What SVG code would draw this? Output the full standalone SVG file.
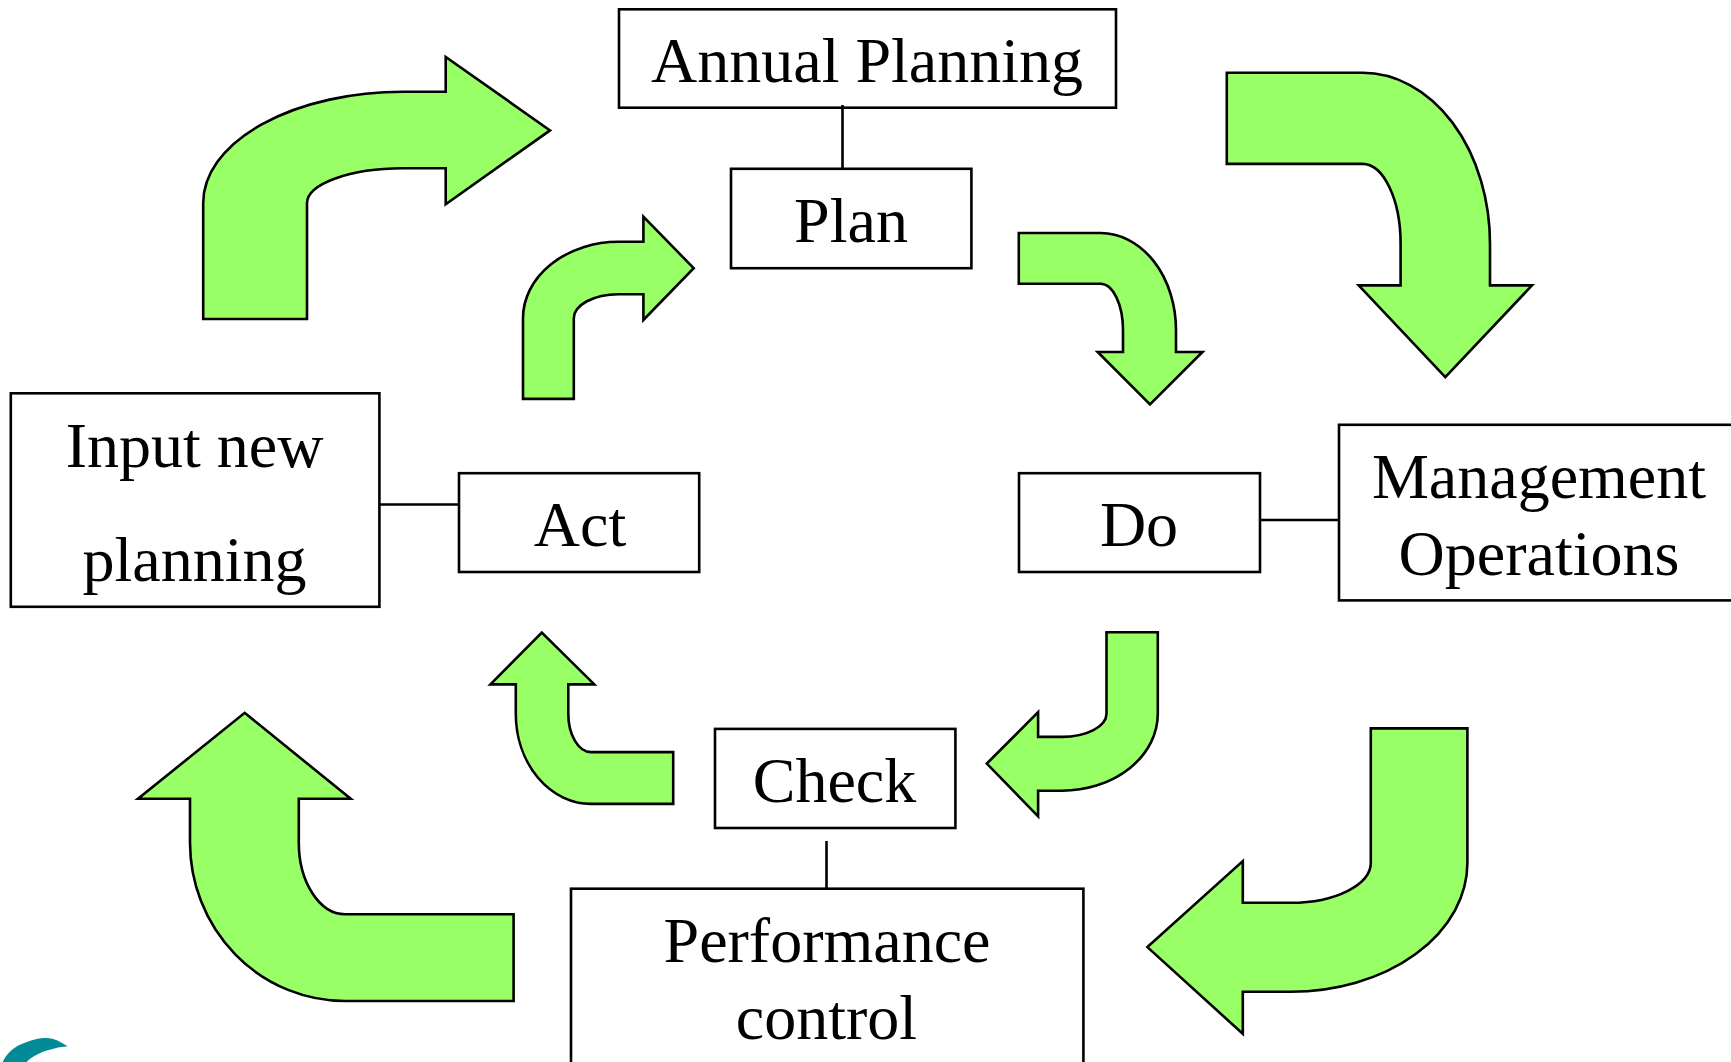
<svg xmlns="http://www.w3.org/2000/svg" width="1731" height="1062" viewBox="0 0 1731 1062">
<style>
.box{fill:#fff;stroke:#000;stroke-width:2.6}
.arrow{fill:#99ff66;stroke:#000;stroke-width:2.6;stroke-linejoin:miter}
.link{stroke:#000;stroke-width:2.6;fill:none}
text{font-family:"Liberation Serif","Times New Roman",serif;font-size:64px;fill:#000;text-anchor:middle}
</style>
<rect width="1731" height="1062" fill="#fff"/>
<g id="arrow-input-annual"><path class="arrow" d="M203.2 319V203A200 111.2 0 0 1 403 91.8H445.7V56.9L550 130.4 445.7 204.2V168.3H403A96 35 0 0 0 307 203.2V319Z"/></g>
<g id="arrow-act-plan"><path class="arrow" d="M523 398.9V318.3A95.6 76.5 0 0 1 618.6 241.8H643.4V216.7L693.7 268.2 643.4 320V294.2H618.6A44.8 24.1 0 0 0 573.8 318.3V398.9Z"/></g>
<g id="arrow-plan-do"><path class="arrow" d="M1018.8 233H1100.5A75.5 97 0 0 1 1176 330V352H1202.5L1150 404.3 1097.7 352H1123V330A22.5 46.2 0 0 0 1100.5 283.8H1018.8Z"/></g>
<g id="arrow-annual-mgmt"><path class="arrow" d="M1226.8 72.8H1362.5A127.5 171 0 0 1 1490 243.8V285.4H1532L1445.3 377.2 1358.7 285.4H1400.6V243.8A38.1 79.9 0 0 0 1362.5 163.9H1226.8Z"/></g>
<g id="arrow-do-check"><path class="arrow" d="M1106.5 632.2H1157.8V713.8A95.9 76.9 0 0 1 1061.9 790.7H1038.1V816.4L986.8 763.6 1038.1 712.2V736.9H1061.9A44.6 23.1 0 0 0 1106.5 713.8Z"/></g>
<g id="arrow-mgmt-perf"><path class="arrow" d="M1370.8 728.4H1467.4V862.8A176.6 129 0 0 1 1290.8 991.8H1242.8V1033.8L1147.4 947.1 1242.8 861.1V902.8H1290.8A80 40 0 0 0 1370.8 862.8Z"/></g>
<g id="arrow-check-act"><path class="arrow" d="M673.2 752.1V803.9H591A75.2 90.1 0 0 1 515.8 713.8V684.4H490.4L541.8 632.6 594.3 684.4H568.3V713.8A22.7 38.3 0 0 0 591 752.1Z"/></g>
<g id="arrow-perf-input"><path class="arrow" d="M513.6 914.3V1001H345.2A155.2 158.5 0 0 1 190 842.5V798.8H138L244.7 712.8 350.7 798.8H298.8V842.5A46.4 71.8 0 0 0 345.2 914.3Z"/></g>
<g id="annual-planning"><rect class="box" x="619" y="9.3" width="497" height="98.4"/><text x="867" y="82.3">Annual Planning</text></g>
<g id="plan"><rect class="box" x="731" y="168.8" width="240.4" height="99.4"/><text x="851" y="242">Plan</text></g>
<g id="input-new-planning"><rect class="box" x="10.8" y="393.3" width="368.6" height="213.5"/><text x="194.5" y="466.5">Input new</text><text x="194.5" y="581">planning</text></g>
<g id="act"><rect class="box" x="459" y="473.2" width="240.2" height="98.8"/><text x="580" y="546">Act</text></g>
<g id="do"><rect class="box" x="1019" y="473.2" width="241" height="98.8"/><text x="1139" y="546">Do</text></g>
<g id="management-operations"><rect class="box" x="1339" y="424.8" width="420" height="175.6"/><text x="1539" y="498">Management</text><text x="1539" y="575">Operations</text></g>
<g id="check"><rect class="box" x="715" y="728.9" width="240.4" height="99.1"/><text x="834.5" y="802">Check</text></g>
<g id="performance-control"><rect class="box" x="571" y="888.7" width="512.4" height="200"/><text x="827" y="962">Performance</text><text x="826.5" y="1039">control</text></g>
<g id="connectors">
<line class="link" x1="842.5" y1="105" x2="842.5" y2="168"/>
<line class="link" x1="379" y1="504.5" x2="459" y2="504.5"/>
<line class="link" x1="1260" y1="520" x2="1339" y2="520"/>
<line class="link" x1="826.5" y1="841" x2="826.5" y2="888"/>
</g>
<path id="logo-swoosh" d="M2.7 1062C6 1054 13 1048 20 1044.7 28 1041 36 1038.5 43 1038 50 1037.5 56 1039 62 1043L67.7 1046.3 58 1047.5 50 1049.7C44 1051 40 1053 36.7 1054.7 32 1057 29 1059 26.7 1062Z" fill="#008b96"/>
</svg>
